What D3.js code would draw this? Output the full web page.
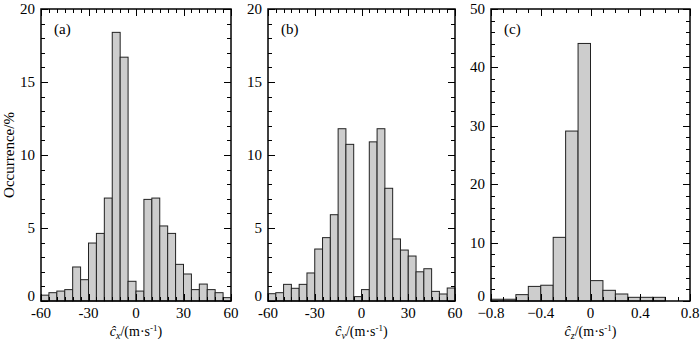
<!DOCTYPE html>
<html>
<head>
<meta charset="utf-8">
<script src="https://cdn.jsdelivr.net/npm/d3@7"></script>
<style>
  body { margin: 0; background: #fff; }
</style>
</head>
<body>
<svg id="chart" width="700" height="339" font-family="'Liberation Serif', 'Times New Roman', Times, serif"></svg>
<script>
// ---- data (occurrence %) ----
const cxBinStart = -60, cxBinWidth = 5;
const cxValues = [0.4, 0.57, 0.68, 0.78, 2.33, 1.46, 3.97, 4.63, 7.05, 18.4, 16.7, 1.35,
                  0.68, 6.96, 7.05, 5.14, 4.63, 2.51, 1.85, 0.78, 1.16, 0.78, 0.57, 0.23];

const cyBinStart = -60, cyBinWidth = 5;
const cyValues = [0.5, 0.57, 1.14, 0.87, 1.14, 1.92, 3.56, 4.34, 5.91, 11.8, 10.73, 0.3,
                  0.78, 10.9, 11.8, 7.72, 4.25, 3.49, 3.08, 2.0, 2.21, 0.66, 0.48, 0.89];

const czBinStart = -0.8, czBinWidth = 0.1;
const czValues = [0.3, 0.3, 1.09, 2.5, 2.7, 10.9, 29.1, 44.1, 3.49, 1.83, 1.2, 0.63, 0.63, 0.63];

const xTicksAB = [-60, -30, 0, 30, 60];
const xTicksC = [-0.8, -0.4, 0, 0.4, 0.8];
const yTicksAB = [0, 5, 10, 15, 20];
const yTicksC = [0, 10, 20, 30, 40, 50];

const panels = [
  { label: "(a)", sub: "x", start: cxBinStart, w: cxBinWidth, values: cxValues,
    xDomain: [-60, 60], yDomain: [0, 20], xTicks: xTicksAB, yTicks: yTicksAB,
    xMinorStep: 5, yMinorStep: 1, left: 41, right: 231, fmt: d => d },
  { label: "(b)", sub: "y", start: cyBinStart, w: cyBinWidth, values: cyValues,
    xDomain: [-60, 60], yDomain: [0, 20], xTicks: xTicksAB, yTicks: yTicksAB,
    xMinorStep: 5, yMinorStep: 1, left: 268, right: 455, fmt: d => d },
  { label: "(c)", sub: "z", start: czBinStart, w: czBinWidth, values: czValues,
    xDomain: [-0.8, 0.8], yDomain: [0, 50], xTicks: xTicksC, yTicks: yTicksC,
    xMinorStep: 0.1, yMinorStep: 2, left: 491, right: 690, fmt: d => d === 0 ? "0" : d3.format(".1f")(d) }
];

const plotTop = 9, plotBottom = 301;
const svg = d3.select("#chart");
const fs = 15;
const majorLen = 7, minorLen = 4;

panels.forEach(p => {
  const x = d3.scaleLinear().domain(p.xDomain).range([p.left, p.right]);
  const y = d3.scaleLinear().domain(p.yDomain).range([plotBottom, plotTop]);
  const g = svg.append("g");

  // bars
  g.selectAll("rect.bar")
    .data(p.values)
    .enter()
    .append("rect")
    .attr("class", "bar")
    .attr("x", (d, i) => x(p.start + i * p.w))
    .attr("width", (d, i) => x(p.start + (i + 1) * p.w) - x(p.start + i * p.w))
    .attr("y", d => y(d))
    .attr("height", d => y(0) - y(d))
    .attr("fill", "#cdcdcd")
    .attr("stroke", "#222")
    .attr("stroke-width", 1);

  // minor + major ticks (inward, all four sides)
  const nx = Math.round((p.xDomain[1] - p.xDomain[0]) / p.xMinorStep);
  const xMinor = d3.range(nx + 1).map(i => p.xDomain[0] + i * p.xMinorStep);
  const ny = Math.round((p.yDomain[1] - p.yDomain[0]) / p.yMinorStep);
  const yMinor = d3.range(ny + 1).map(i => p.yDomain[0] + i * p.yMinorStep);
  const isMajor = (v, ticks) => ticks.some(t => Math.abs(t - v) < 1e-6);

  const tickG = g.append("g").attr("stroke", "#000").attr("stroke-width", 1);
  xMinor.forEach(v => {
    const len = isMajor(v, p.xTicks) ? majorLen : minorLen;
    const xx = Math.round(x(v)) + 0.5;
    tickG.append("line").attr("x1", xx).attr("x2", xx).attr("y1", plotTop).attr("y2", plotTop + len);
    tickG.append("line").attr("x1", xx).attr("x2", xx).attr("y1", plotBottom).attr("y2", plotBottom - len);
  });
  yMinor.forEach(v => {
    const len = isMajor(v, p.yTicks) ? majorLen : minorLen;
    const yy = Math.round(y(v)) + 0.5;
    tickG.append("line").attr("x1", p.left).attr("x2", p.left + len).attr("y1", yy).attr("y2", yy);
    tickG.append("line").attr("x1", p.right).attr("x2", p.right - len).attr("y1", yy).attr("y2", yy);
  });

  // frame
  g.append("rect")
    .attr("x", p.left).attr("y", plotTop)
    .attr("width", p.right - p.left).attr("height", plotBottom - plotTop)
    .attr("fill", "none").attr("stroke", "#000").attr("stroke-width", 1.5);

  // tick labels
  g.selectAll("text.xt").data(p.xTicks).enter().append("text")
    .attr("x", d => x(d)).attr("y", plotBottom + 17)
    .attr("text-anchor", "middle").attr("font-size", fs)
    .text(d => p.fmt(d));
  g.selectAll("text.yt").data(p.yTicks).enter().append("text")
    .attr("x", p.left - 6).attr("y", d => y(d) + (d === 0 ? 0 : 5))
    .attr("text-anchor", "end").attr("font-size", fs)
    .text(d => d);

  // panel label
  g.append("text").attr("x", p.left + 13).attr("y", plotTop + 25)
    .attr("font-size", fs).text(p.label);

  // x axis title: ĉ_x /(m·s^-1)
  const t = g.append("text")
    .attr("x", (p.left + p.right) / 2).attr("y", 335.5)
    .attr("text-anchor", "middle").attr("font-size", 14);
  t.append("tspan").attr("font-style", "italic").text("\u0109");
  t.append("tspan").attr("font-style", "italic").attr("font-size", 10).attr("dy", 3).text(p.sub);
  t.append("tspan").attr("dy", -3).text("/(m\u00b7s");
  t.append("tspan").attr("font-size", 9).attr("dy", -5).text("-1");
  t.append("tspan").attr("dy", 5).text(")");
});

// y axis title
svg.append("text")
  .attr("transform", "translate(14,155) rotate(-90)")
  .attr("text-anchor", "middle").attr("font-size", fs)
  .text("Occurrence/%");
</script>
</body>
</html>
